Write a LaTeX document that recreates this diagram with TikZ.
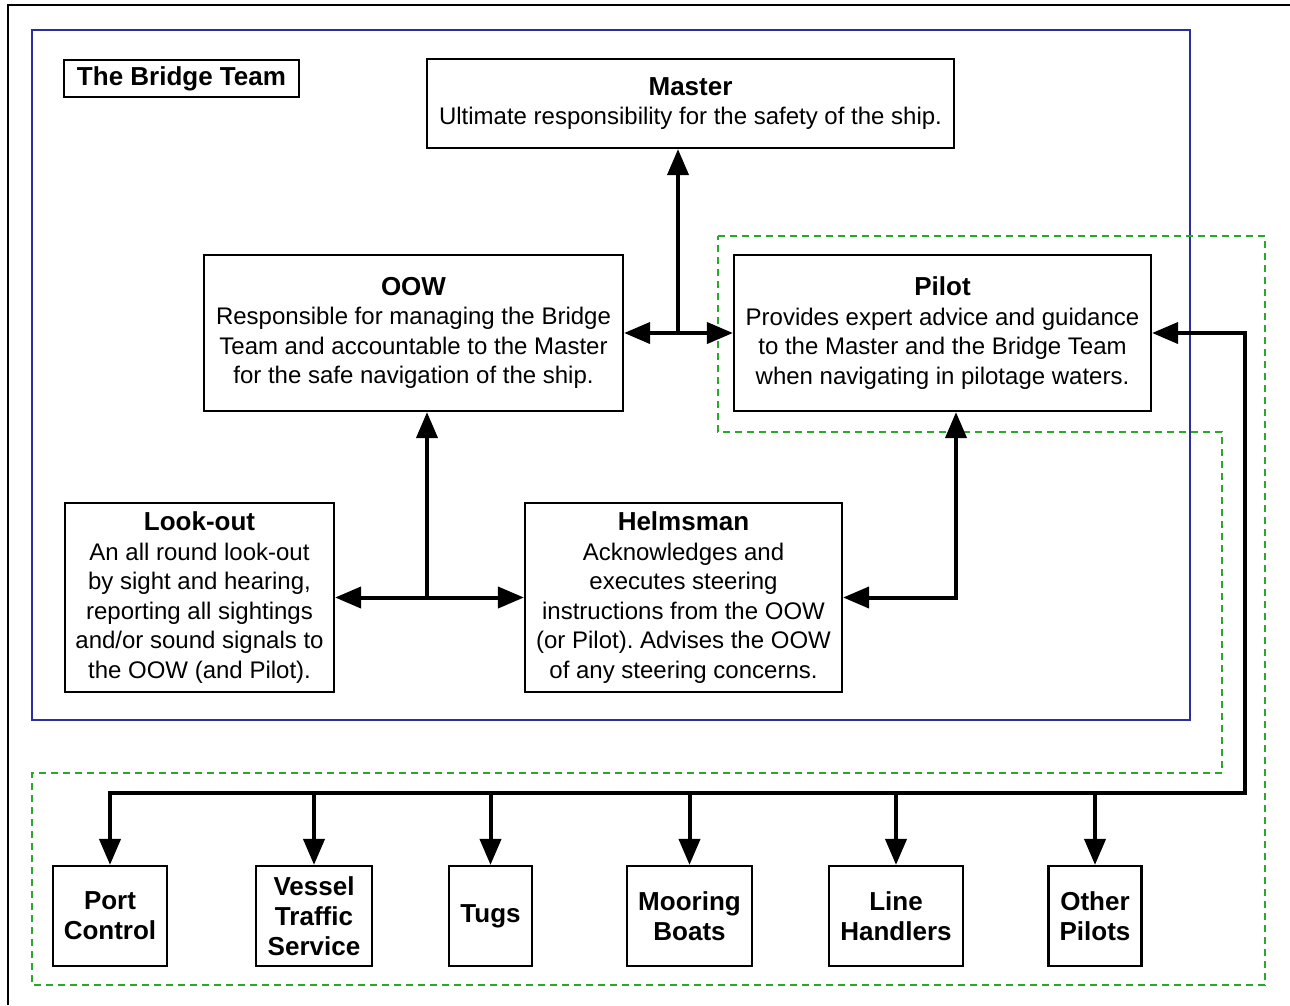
\documentclass[tikz,border=0pt]{standalone}
\usepackage{fontspec}
\setmainfont{Liberation Sans}
\usetikzlibrary{arrows.meta}
\definecolor{teamblue}{RGB}{45,45,160}
\definecolor{zonegreen}{RGB}{40,170,40}
\newcommand{\ttl}[1]{{\fontsize{26}{29.5}\selectfont\bfseries #1}}
\frenchspacing

\begin{document}
\begin{tikzpicture}[x=1pt,y=-1pt,>={Triangle[length=26pt,width=21pt]},
    box/.style={draw,line width=2.2pt,align=center,inner sep=0pt,font=\fontsize{24}{29.5}\selectfont},
    bold/.style={font=\fontsize{26}{30}\selectfont\bfseries},
    link/.style={line width=4pt},
    teamline/.style={draw=teamblue,line width=2pt},
    zoneline/.style={draw=zonegreen,line width=2.2pt,dash pattern=on 7pt off 5pt}]
    \useasboundingbox (0,0) rectangle (1290,1005);
    \draw[line width=2.5pt] (8,1005) -- (8,5) -- (1290,5);
    \draw[teamline] (32,30) rectangle (1190,720);
    \draw[zoneline] (718,236) -- (1265,236) -- (1265,985) -- (32,985) -- (32,773) -- (1222,773) -- (1222,432) -- (718,432) -- cycle;

    \node[box,bold,minimum width=235pt,minimum height=37pt] (team) at (181.5,78.5) {The Bridge Team};
    \node[box,minimum width=527pt,minimum height=89pt] (master) at (690.5,103.5) {\ttl{Master}\\Ultimate responsibility for the safety of the ship.};
    \node[box,minimum width=419pt,minimum height=156pt] (oow) at (413.5,333) {\ttl{OOW}\\Responsible for managing the Bridge\\Team and accountable to the Master\\for the safe navigation of the ship.};
    \node[box,minimum width=417pt,minimum height=156pt] (pilot) at (942.5,333) {\ttl{Pilot}\\Provides expert advice and guidance\\to the Master and the Bridge Team\\when navigating in pilotage waters.};
    \node[box,minimum width=269pt,minimum height=189pt] (lookout) at (199.5,597.5) {\ttl{Look-out}\\An all round look-out\\by sight and hearing,\\reporting all sightings\\and/or sound signals to\\the OOW (and Pilot).};
    \node[box,minimum width=317pt,minimum height=189pt] (helm) at (683.5,597.5) {\ttl{Helmsman}\\Acknowledges and\\executes steering\\instructions from the OOW\\(or Pilot). Advises the OOW\\of any steering concerns.};

    \node[box,bold,minimum width=114pt,minimum height=100pt] (port) at (110,916) {Port\\Control};
    \node[box,bold,minimum width=116pt,minimum height=100pt] (vts) at (314,916) {Vessel\\Traffic\\Service};
    \node[box,bold,minimum width=83pt,minimum height=100pt] (tugs) at (490.5,916) {Tugs};
    \node[box,bold,minimum width=125pt,minimum height=100pt] (mooring) at (689.5,916) {Mooring\\Boats};
    \node[box,bold,minimum width=134pt,minimum height=100pt] (handlers) at (896,916) {Line\\Handlers};
    \node[box,bold,minimum width=93pt,minimum height=100pt] (others) at (1095,916) {Other\\Pilots};

    \coordinate (topjoin) at (678,333);
    \coordinate (lowjoin) at (427,597.5);
    \coordinate (helmjoin) at (956,597.5);
    \coordinate (bus) at (1245,793);

    \draw[link,<->] (oow.east) -- (pilot.west);
    \draw[link,->] (topjoin) -- (topjoin |- master.south);
    \draw[link,<->] (lookout.east) -- (helm.west);
    \draw[link,->] (lowjoin) -- (lowjoin |- oow.south);
    \draw[link,<->] (helm.east) -- (helmjoin) -- (helmjoin |- pilot.south);
    \draw[link,<->] (port.north) |- (bus) |- (pilot.east);
    \foreach \n in {vts,tugs,mooring,handlers,others}
        \draw[link,->] (\n.north |- bus) -- (\n.north);
\end{tikzpicture}
\end{document}
